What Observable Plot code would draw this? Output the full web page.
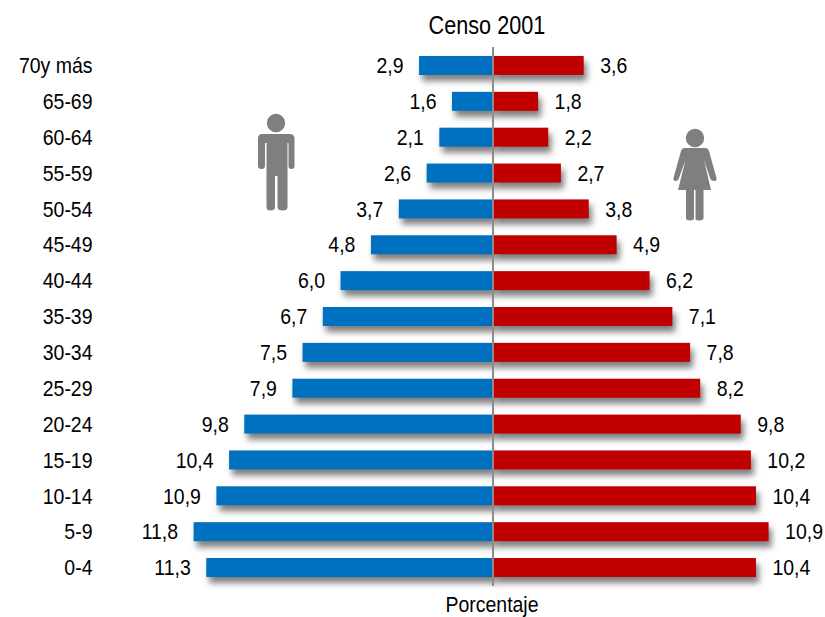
<!DOCTYPE html>
<html><head><meta charset="utf-8">
<script src="https://cdn.jsdelivr.net/npm/d3@7"></script>
<script src="https://cdn.jsdelivr.net/npm/@observablehq/plot@0.6"></script>
<style>html,body{margin:0;background:#fff}svg{display:block}</style>
</head><body><div id="c"></div>
<script>
const ages = ["70y más","65-69","60-64","55-59","50-54","45-49","40-44","35-39","30-34","25-29","20-24","15-19","10-14","5-9","0-4"];
const hombres = [2.9,1.6,2.1,2.6,3.7,4.8,6.0,6.7,7.5,7.9,9.8,10.4,10.9,11.8,11.3];
const mujeres = [3.6,1.8,2.2,2.7,3.8,4.9,6.2,7.1,7.8,8.2,9.8,10.2,10.4,10.9,10.4];
const titulo = "Censo 2001", ejeX = "Porcentaje";
const azul = "#0070c0", rojo = "#c00000", gris = "#7f7f7f", tinta = "#000";
const font = "'Liberation Sans',Arial,sans-serif";
const fmt = v => v.toFixed(1).replace(".", ",");
const W = 825, H = 617, pxPerUnit = 25.33, zeroX = 492.5;
const rows = ages.map((a,i)=>({age:a,m:hombres[i],f:mujeres[i]}));
const shadow = (index, scales, values, dims, ctx, next) => {
  const g = next(index, scales, values, dims, ctx);
  g.style.filter = "drop-shadow(3px 6px 3px rgba(0,0,0,.5))";
  return g;
};
const icon = d => () => {
  const p = document.createElementNS("http://www.w3.org/2000/svg","path");
  p.setAttribute("d", d); p.setAttribute("fill", gris);
  p.style.filter = "blur(.4px)";
  return p;
};
const circle = (cx,cy,r)=>`M${cx-r},${cy}a${r},${r} 0 1,0 ${2*r},0a${r},${r} 0 1,0 ${-2*r},0Z`;
const hombre = circle(276,123,9.2)+
 "M262,134H290Q294.5,134 294.5,139V166Q294.5,169 291.5,169T288.5,166V143H287.5V207Q287.5,210.5 283,210.5Q277.5,210.5 277.5,207V176H275V207Q275,210.5 270.5,210.5Q266.5,210.5 266.5,207V143H265V166Q265,169 261.5,169T258,166V139Q258,134 262,134Z";
const mujer = circle(695,138,9.2)+
 "M685,148H705Q708,148 709,151L716.5,178Q717,181 714,181T710,178L704,160L711,190H703.5V218Q703.5,220.5 699,220.5T695.5,218V190H694V218Q694,220.5 690,220.5T686,218V190H678L685.5,160L679,178Q678,181 675.5,181T673.5,178L681,151Q682,148 685,148Z";
const fig = Plot.plot({
  width: W, height: H,
  marginLeft: 92, marginRight: 0, marginTop: 47, marginBottom: 31,
  style: {fontFamily: font, fontSize: "22.5px", color: tinta, background: "#fff", overflow: "visible"},
  x: {domain: [-(zeroX-92)/pxPerUnit, (W-zeroX)/pxPerUnit], axis: null},
  y: {domain: ages, paddingInner: 0.47, paddingOuter: 0.25, align: 0.5, round: false, label: null},
  marks: [
    Plot.axisY({tickSize:0, tickPadding:0, fontSize:22.5, fontFamily:font, fill:tinta, label:null}),
    Plot.barX(rows,{y:"age",x1:0,x2:d=>-d.m,fill:azul,render:shadow}),
    Plot.barX(rows,{y:"age",x1:0,x2:"f",fill:rojo,render:shadow}),
    Plot.ruleX([0],{stroke:"#8c8c8c",strokeWidth:2}),
    Plot.text(rows,{y:"age",x:d=>-d.m,text:d=>fmt(d.m),textAnchor:"end",dx:-16,fontSize:22.5,fill:tinta}),
    Plot.text(rows,{y:"age",x:"f",text:d=>fmt(d.f),textAnchor:"start",dx:16,fontSize:22.5,fill:tinta}),
    Plot.text([titulo],{frameAnchor:"top",x:[-0.24],dy:-31,fontSize:25,fill:tinta}),
    Plot.text([ejeX],{frameAnchor:"bottom",x:[-0.04],dy:25,fontSize:22.5,fill:tinta}),
    icon(hombre),
    icon(mujer)
  ]
});
document.getElementById("c").appendChild(fig);
// The reference type is slightly condensed: narrow every label horizontally.
fig.querySelectorAll("text").forEach(t => {
  const target = t.getComputedTextLength() * 0.865;
  t.setAttribute("textLength", target);
  t.setAttribute("lengthAdjust", "spacingAndGlyphs");
});
</script></body></html>
